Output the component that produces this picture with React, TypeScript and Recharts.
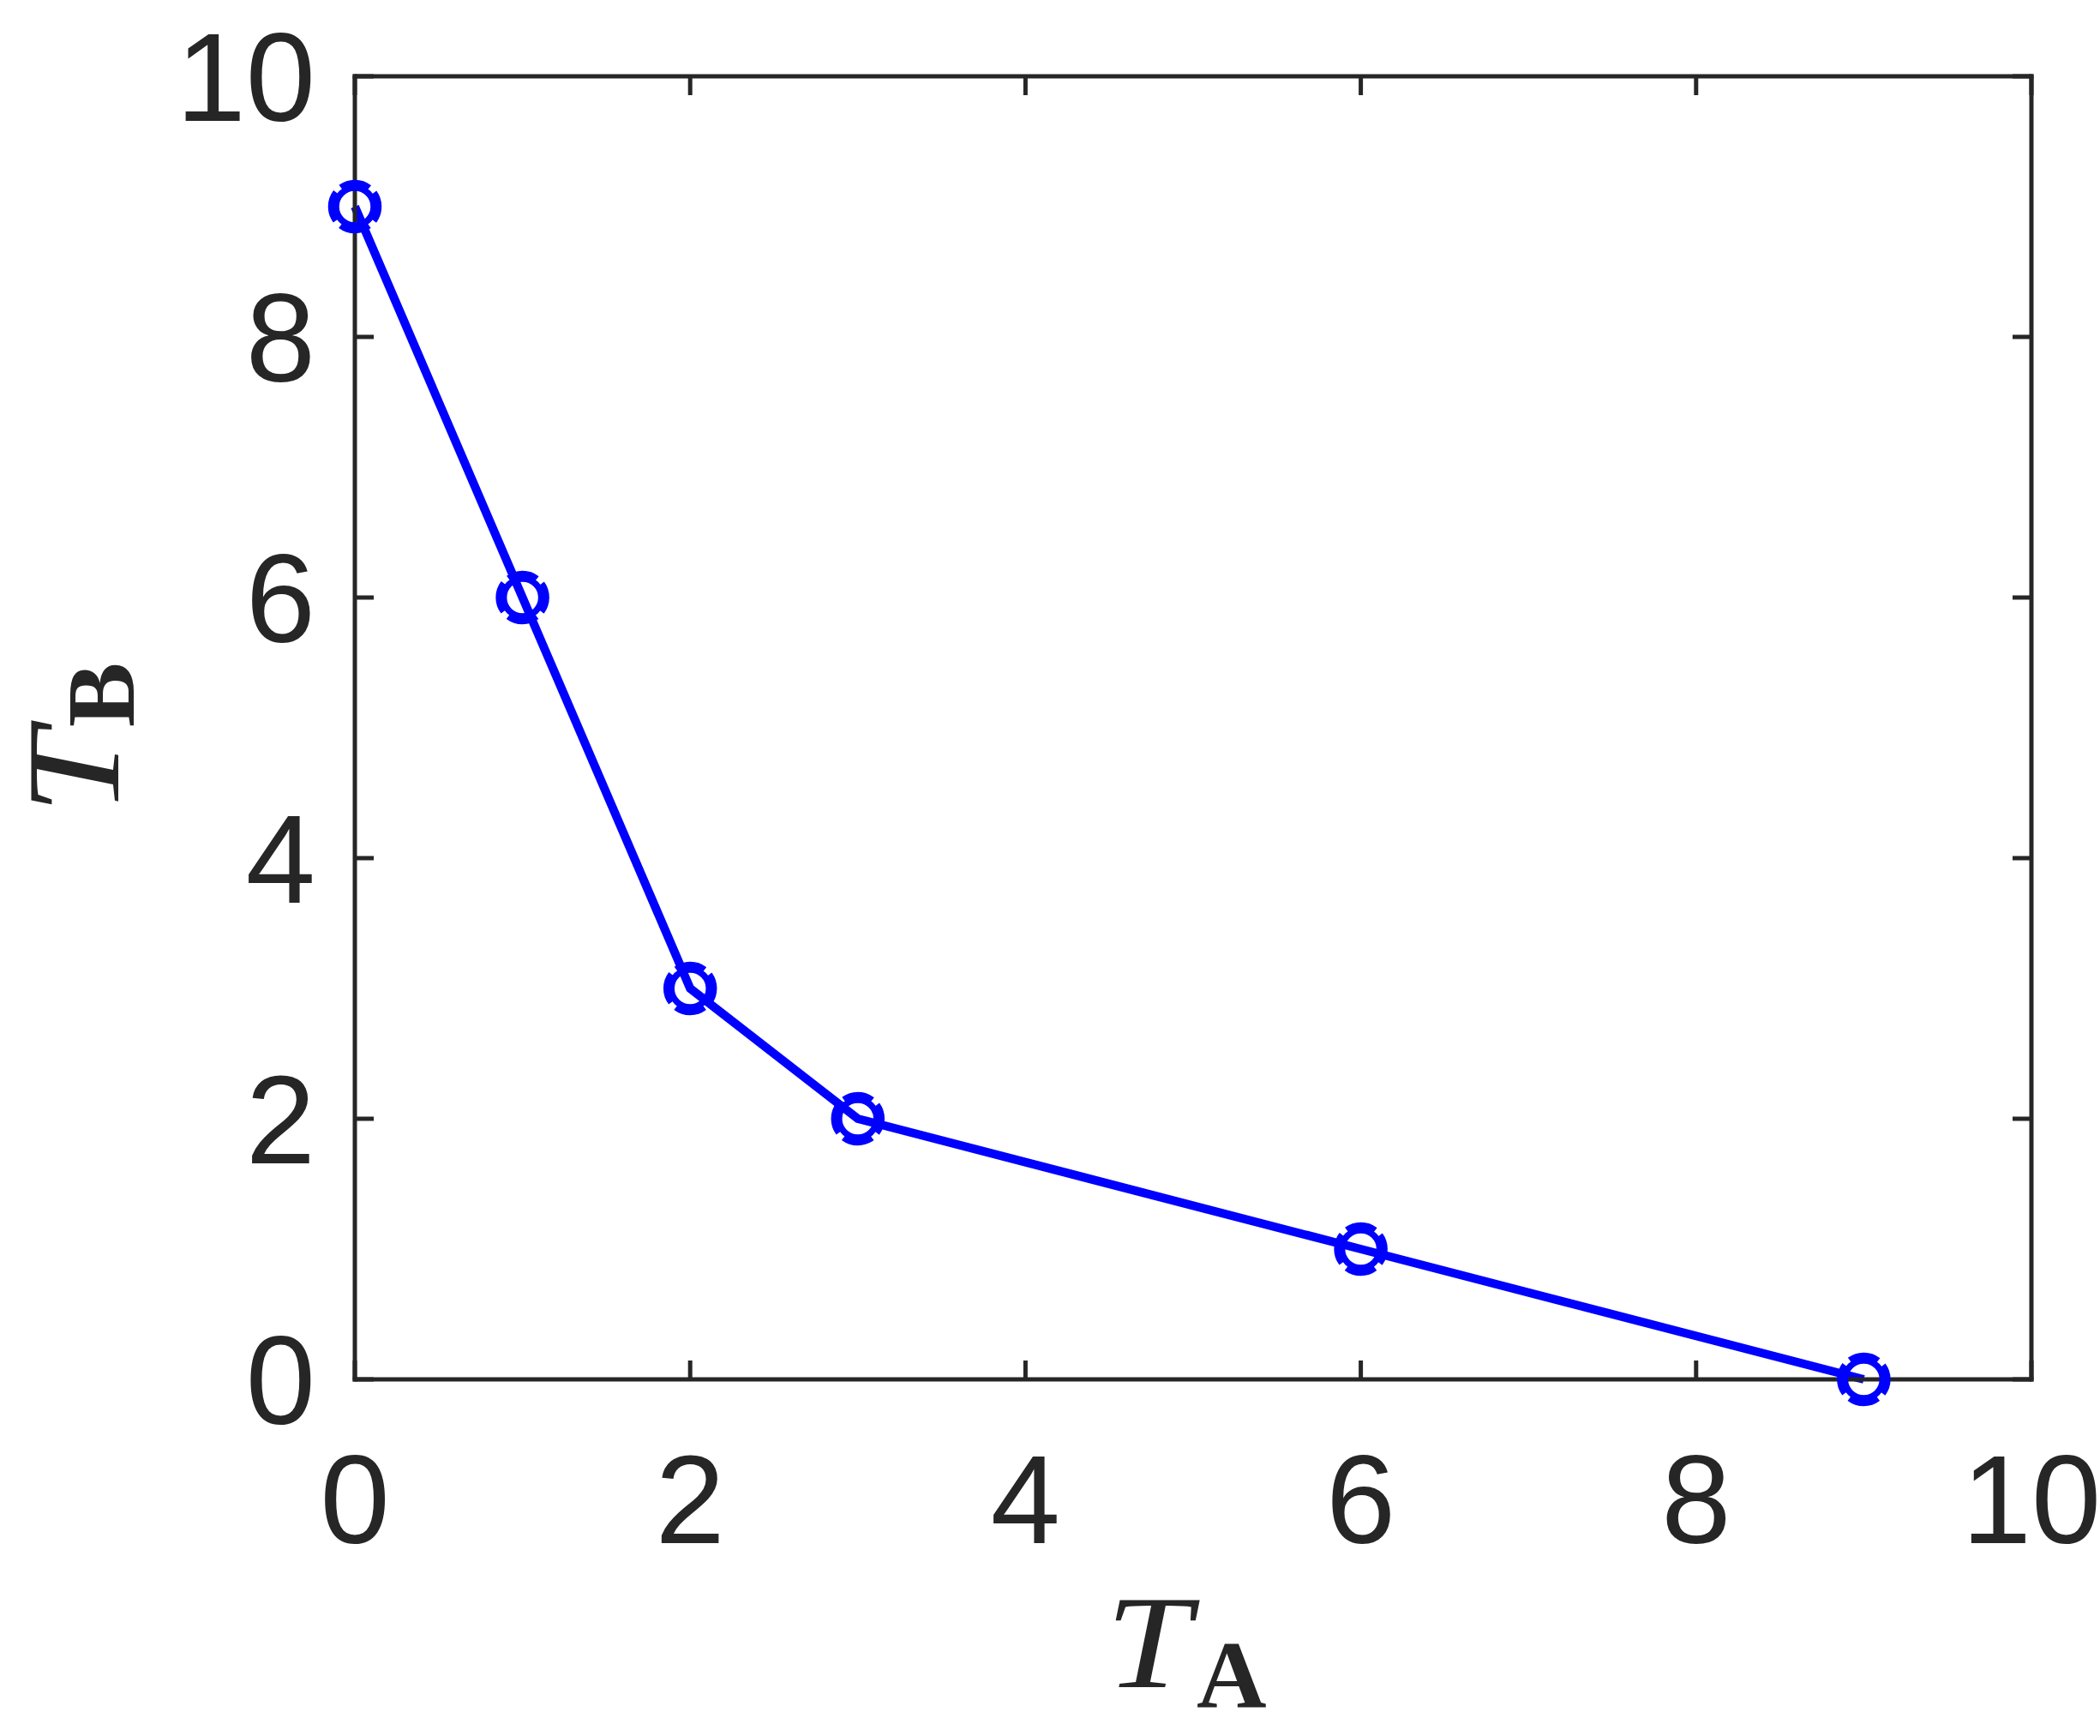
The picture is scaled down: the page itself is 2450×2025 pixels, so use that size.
import { LineChart, Line, XAxis, YAxis } from 'recharts';

const taValues = [0, 1, 2, 3, 6, 9];
const tbValues = [9, 6, 3, 2, 1, 0];
const xTicks = [0, 2, 4, 6, 8, 10];
const yTicks = [0, 2, 4, 6, 8, 10];

const AXIS = '#262626';
const BLUE = '#0000FF';
const PLOT_LEFT = 414;
const PLOT_RIGHT = 2370;
const PLOT_TOP = 89;
const PLOT_BOTTOM = 1609;
const TICK_FONT = '"Liberation Sans", Arial, sans-serif';
const LABEL_FONT = '"Liberation Serif", "Times New Roman", serif';

const data = taValues.map((ta, i) => ({ ta, tb: tbValues[i] }));

const axisLine = { stroke: AXIS, strokeWidth: 5, strokeLinecap: 'square' as const };
const tickLine = { stroke: AXIS, strokeWidth: 5 };

function BottomTick(props: any) {
  const { x, payload } = props;
  return (
    <text x={x} y={PLOT_BOTTOM + 191} textAnchor="middle" fontFamily={TICK_FONT} fontSize={146} fill={AXIS}>
      {payload.value}
    </text>
  );
}

function LeftTick(props: any) {
  const { y, payload } = props;
  return (
    <text x={368} y={y + 52} textAnchor="end" fontFamily={TICK_FONT} fontSize={146} fill={AXIS}>
      {payload.value}
    </text>
  );
}

// top / right axes only show tick marks
const NoLabel = () => <g />;

// MATLAB style circle marker, dashed outline
function Marker(props: any) {
  const { cx, cy, index } = props;
  if (cx == null || cy == null) return null;
  return (
    <g key={`m-${index}`}>
      <circle cx={cx} cy={cy} r={22} fill="none" stroke={BLUE} strokeWidth={7.5} />
      <circle
        cx={cx}
        cy={cy}
        r={28}
        fill="none"
        stroke={BLUE}
        strokeWidth={6.5}
        strokeDasharray="36 8"
        strokeDashoffset={18}
      />
    </g>
  );
}

const xLabel = () => (
  <g fontFamily={LABEL_FONT} fill={AXIS}>
    <g transform="translate(1290, 1968) scale(1.15, 1)">
      <text x={0} y={0} fontStyle="italic" fontSize={155}>T</text>
    </g>
    <text x={1396} y={1992} fontWeight="bold" fontSize={113}>A</text>
  </g>
);

const yLabel = () => (
  <g fontFamily={LABEL_FONT} fill={AXIS} transform="translate(138, 950) rotate(-90)">
    <g transform="scale(1.15, 1)">
      <text x={0} y={0} fontStyle="italic" fontSize={155}>T</text>
    </g>
    <text x={102} y={18} fontWeight="bold" fontSize={113}>B</text>
  </g>
);

export default function App() {
  return (
    <div style={{ position: 'absolute', left: 0, top: 0, background: '#fff' }}>
      <LineChart width={2450} height={2025} data={data} margin={{ top: 0, right: 0, bottom: 0, left: 0 }}>
        <XAxis
          dataKey="ta"
          type="number"
          domain={[0, 10]}
          ticks={xTicks}
          interval={0}
          height={2025 - PLOT_BOTTOM}
          axisLine={axisLine}
          tickLine={tickLine}
          tickSize={-22}
          tick={<BottomTick />}
          label={{ content: xLabel }}
        />
        <XAxis
          xAxisId="top"
          orientation="top"
          dataKey="ta"
          type="number"
          domain={[0, 10]}
          allowDataOverflow
          ticks={xTicks}
          interval={0}
          height={PLOT_TOP}
          axisLine={axisLine}
          tickLine={tickLine}
          tickSize={-22}
          tick={<NoLabel />}
        />
        <YAxis
          type="number"
          domain={[0, 10]}
          ticks={yTicks}
          interval={0}
          width={PLOT_LEFT}
          axisLine={axisLine}
          tickLine={tickLine}
          tickSize={-22}
          tick={<LeftTick />}
          label={{ content: yLabel }}
        />
        <YAxis
          yAxisId="right"
          orientation="right"
          type="number"
          domain={[0, 10]}
          allowDataOverflow
          ticks={yTicks}
          interval={0}
          width={2450 - PLOT_RIGHT}
          axisLine={axisLine}
          tickLine={tickLine}
          tickSize={-22}
          tick={<NoLabel />}
        />
        {/* invisible copy so the frame axes get a scale */}
        <Line
          xAxisId="top"
          yAxisId="right"
          type="linear"
          dataKey="tb"
          stroke="none"
          dot={false}
          activeDot={false}
          isAnimationActive={false}
        />
        <Line
          type="linear"
          dataKey="tb"
          stroke={BLUE}
          strokeWidth={10}
          dot={Marker}
          activeDot={false}
          isAnimationActive={false}
        />
      </LineChart>
    </div>
  );
}
